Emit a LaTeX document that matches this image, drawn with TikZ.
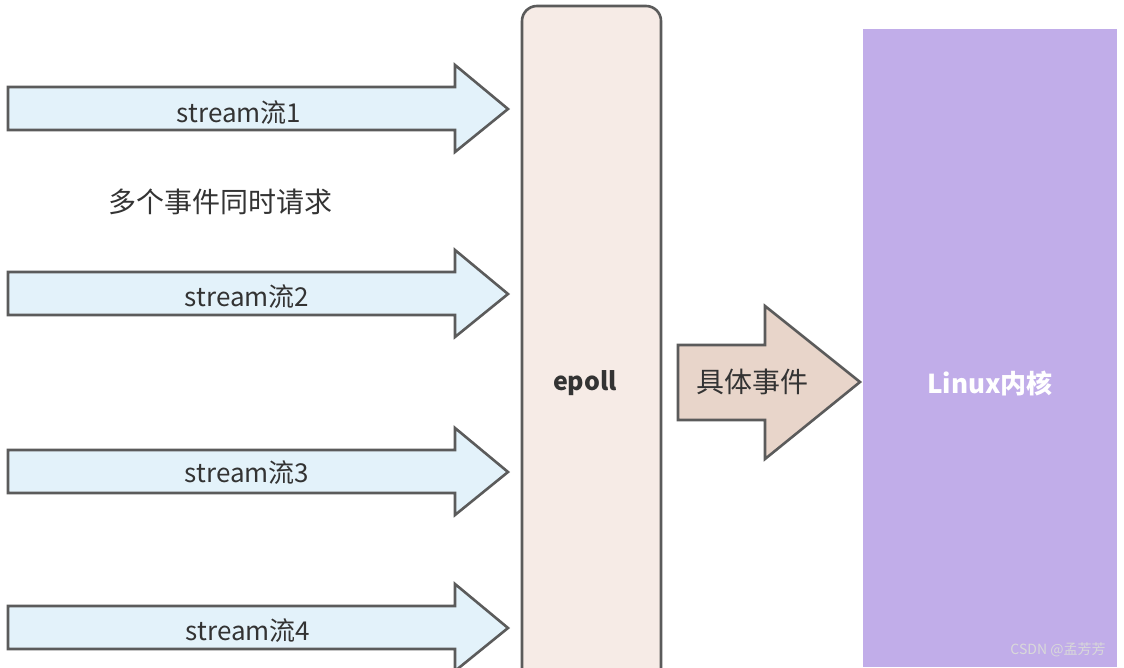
\documentclass[tikz,border=0pt]{standalone}
\usepackage{fontspec}
\setmainfont{Noto Sans CJK SC}
\definecolor{strokeg}{HTML}{5B5B5B}
\definecolor{blueF}{HTML}{E3F2FA}
\definecolor{epollF}{HTML}{F6EBE6}
\definecolor{evF}{HTML}{E8D5CA}
\definecolor{linuxF}{HTML}{C1ADE9}
\definecolor{txt}{HTML}{333333}
\begin{document}
\begin{tikzpicture}[x=1pt,y=1pt,
  outlined/.style={draw=strokeg,line width=2.6pt,line join=miter},
  streamarrow/.style={outlined,fill=blueF},
  lbl/.style={text=txt,font=\fontsize{26}{30}\selectfont,inner sep=0pt},
  biglbl/.style={text=txt,font=\fontsize{28}{32}\selectfont,inner sep=0pt},
]
\useasboundingbox (0,0) rectangle (1124,667);
\clip (0,0) rectangle (1124,667);
\fill[white] (0,0) rectangle (1124,667);
% stream arrows
\foreach \c/\n in {558/1,373/2,195/3,39/4}{
  \draw[streamarrow] (8,\c+22) -- (455,\c+22) -- (455,\c+44) -- (508,\c) -- (455,\c-43) -- (455,\c-21) -- (8,\c-21) -- cycle;
}
\node[lbl] (s1) at (239,554) {stream流1};
\node[lbl] (s2) at (247,370) {stream流2};
\node[lbl] (s3) at (247,194) {stream流3};
\node[lbl] (s4) at (248,36) {stream流4};
\node[biglbl] (multi) at (220,465) {多个事件同时请求};
% epoll box
\draw[outlined,fill=epollF,rounded corners=15pt] (522,-30) rectangle (661,661);
\node[lbl,font=\fontsize{25}{30}\selectfont\bfseries] (epoll) at (585,284) {epoll};
% event arrow
\draw[outlined,fill=evF] (678,322) -- (765,322) -- (765,361) -- (860,285) -- (765,208) -- (765,247) -- (678,247) -- cycle;
\node[biglbl] (ev) at (752,285) {具体事件};
% linux box
\fill[linuxF] (863,0) rectangle (1117,638);
\node[lbl,text=white,font=\fontsize{26}{30}\selectfont\bfseries] (linux) at (990,284) {Linux内核};
\node[text=white!70!gray,font=\fontsize{14}{16}\selectfont,inner sep=0pt] (wm) at (1058,17) {CSDN @孟芳芳};
\end{tikzpicture}
\end{document}
